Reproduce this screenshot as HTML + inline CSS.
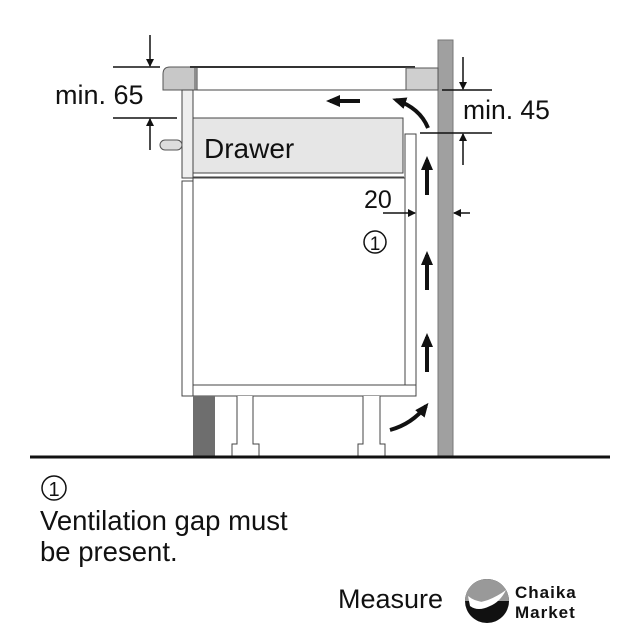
<!DOCTYPE html>
<html><head><style>body{margin:0;background:#fff}svg{display:block}text{font-family:"Liberation Sans",Arial,sans-serif;fill:#111}</style></head>
<body>
<svg width="640" height="640" viewBox="0 0 640 640" xmlns="http://www.w3.org/2000/svg">
<defs>
<marker id="ah" markerWidth="8" markerHeight="8" refX="7" refY="4" orient="auto" markerUnits="userSpaceOnUse"><path d="M0,0 L8,4 L0,8 Z" fill="#111"/></marker>
<marker id="bh" markerWidth="14" markerHeight="12" refX="10" refY="6" orient="auto" markerUnits="userSpaceOnUse"><path d="M0,0 L14,6 L0,12 Z" fill="#111"/></marker>
</defs>
<rect x="438" y="40" width="15" height="416" fill="#a0a0a0" stroke="#777" stroke-width="1"/>
<path d="M170,67 L197,67 L197,90 L163,90 L163,74 Q163,67 170,67 Z" fill="#c8c8c8" stroke="#555"/>
<rect x="197" y="67" width="209" height="23" fill="#fff" stroke="#444"/>
<line x1="190" y1="67" x2="415" y2="67" stroke="#333" stroke-width="2"/>
<rect x="406" y="68" width="32" height="22" fill="#cfcfcf" stroke="#555"/>
<line x1="195" y1="68" x2="195" y2="90" stroke="#555"/>
<rect x="182" y="90" width="11" height="88" fill="#eee" stroke="#444"/>
<rect x="160" y="140" width="22" height="10" rx="5" fill="#ddd" stroke="#555"/>
<rect x="193" y="118" width="210" height="55" fill="#e6e6e6" stroke="#444"/>
<line x1="193" y1="177" x2="404" y2="177" stroke="#444"/>
<text x="204" y="158" font-size="28">Drawer</text>
<rect x="182" y="181" width="11" height="215" fill="#fff" stroke="#444"/>
<rect x="193" y="178" width="212" height="207" fill="#fff" stroke="#444"/>
<rect x="405" y="134" width="11" height="251" fill="#fff" stroke="#444"/>
<rect x="193" y="385" width="223" height="11" fill="#fff" stroke="#444"/>
<rect x="193" y="396" width="22" height="60" fill="#6e6e6e"/>
<path d="M237,396 V444 H232 V456 H259 V444 H253 V396" fill="#fff" stroke="#444"/>
<path d="M363,396 V444 H358 V456 H385 V444 H380 V396" fill="#fff" stroke="#444"/>
<line x1="30" y1="457" x2="610" y2="457" stroke="#111" stroke-width="3"/>
<line x1="427" y1="195" x2="427" y2="160" stroke="#111" stroke-width="4" marker-end="url(#bh)"/>
<line x1="427" y1="290" x2="427" y2="255" stroke="#111" stroke-width="4" marker-end="url(#bh)"/>
<line x1="427" y1="372" x2="427" y2="337" stroke="#111" stroke-width="4" marker-end="url(#bh)"/>
<line x1="360" y1="101" x2="330" y2="101" stroke="#111" stroke-width="4" marker-end="url(#bh)"/>
<path d="M428,128 Q420,108 396,100" fill="none" stroke="#111" stroke-width="4" marker-end="url(#bh)"/>
<path d="M390,430 Q412,424 426,406" fill="none" stroke="#111" stroke-width="4" marker-end="url(#bh)"/>
<line x1="113" y1="67" x2="160" y2="67" stroke="#111" stroke-width="1.5"/>
<line x1="113" y1="118" x2="177" y2="118" stroke="#111" stroke-width="1.5"/>
<line x1="150" y1="35" x2="150" y2="66" stroke="#111" stroke-width="1.5" marker-end="url(#ah)"/>
<line x1="150" y1="150" x2="150" y2="119" stroke="#111" stroke-width="1.5" marker-end="url(#ah)"/>
<text x="55" y="104" font-size="27">min. 65</text>
<line x1="442" y1="90" x2="492" y2="90" stroke="#111" stroke-width="1.5"/>
<line x1="420" y1="133" x2="492" y2="133" stroke="#111" stroke-width="1.5"/>
<line x1="463" y1="57" x2="463" y2="89" stroke="#111" stroke-width="1.5" marker-end="url(#ah)"/>
<line x1="463" y1="165" x2="463" y2="134" stroke="#111" stroke-width="1.5" marker-end="url(#ah)"/>
<text x="463" y="119" font-size="26.5">min. 45</text>
<text x="364" y="208" font-size="25">20</text>
<line x1="383" y1="213" x2="415" y2="213" stroke="#111" stroke-width="1.5" marker-end="url(#ah)"/>
<line x1="470" y1="213" x2="454" y2="213" stroke="#111" stroke-width="1.5" marker-end="url(#ah)"/>
<circle cx="375" cy="242" r="11" fill="none" stroke="#111" stroke-width="1.5"/>
<text x="375" y="250" font-size="19" text-anchor="middle">1</text>
<circle cx="54" cy="488" r="12" fill="none" stroke="#111" stroke-width="1.5"/>
<text x="54" y="496" font-size="20" text-anchor="middle">1</text>
<text x="40" y="530" font-size="27.5">Ventilation gap must</text>
<text x="40" y="561" font-size="27.5">be present.</text>
<text x="338" y="608" font-size="27">Measure</text>
<rect x="442" y="570" width="190" height="65" fill="#fff"/>
<circle cx="487" cy="601" r="22" fill="#111"/>
<path d="M465,601 A22,22 0 0 1 509,601 Z" fill="#999"/>
<path d="M468,596 Q478,604 488,600 Q498,596 506,590 Q500,602 490,606 Q478,612 470,606 Z" fill="#fff"/>
<text x="515" y="598" font-size="17" font-weight="bold" letter-spacing="1">Chaika</text>
<text x="515" y="618" font-size="17" font-weight="bold" letter-spacing="1">Market</text>
</svg>
</body></html>
